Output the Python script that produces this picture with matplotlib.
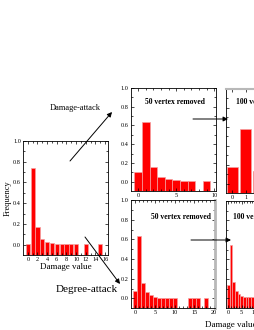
import numpy as np
import matplotlib
matplotlib.use('Agg')
import matplotlib.pyplot as plt
from matplotlib.patches import FancyArrowPatch

plt.rcParams['font.family'] = ['Liberation Serif', 'DejaVu Serif']

W, H = 255, 330

# initial network
left_x = [0, 1, 2, 3, 4, 5, 6, 7, 8, 9, 10, 12, 15]
left_f = [0.002, 0.74, 0.166, 0.057, 0.028, 0.013, 0.008, 0.008, 0.008, 0.003, 0.003, 0.003, 0.003]

# damage-attack, 50 vertex removed
dmg50_x = [0, 1, 2, 3, 4, 5, 6, 7, 9]
dmg50_f = [0.103, 0.638, 0.156, 0.053, 0.025, 0.014, 0.004, 0.004, 0.003]

# degree-attack, 50 vertex removed
deg50_x = [0, 1, 2, 3, 4, 5, 6, 7, 8, 9, 10, 14, 15, 16, 18]
deg50_f = [0.08, 0.63, 0.16, 0.061, 0.034, 0.017, 0.007, 0.007, 0.003, 0.003, 0.003,
           0.003, 0.003, 0.003, 0.003]

# damage-attack, 100 vertex removed
dmg100_x = [0, 1, 2]
dmg100_f = [0.17, 0.575, 0.13]

# degree-attack, 100 vertex removed
deg100_x = [0, 1, 2, 3, 4, 5, 6, 7, 8, 9, 10]
deg100_f = [0.135, 0.55, 0.17, 0.07, 0.04, 0.025, 0.015, 0.01, 0.01, 0.01, 0.01]

fig = plt.figure(figsize=(W / 100, H / 100), dpi=100)


def px_axes(x0, y0, x1, y1):
    # pixel box (top-left origin) -> figure axes
    return fig.add_axes([x0 / W, 1 - y1 / H, (x1 - x0) / W, (y1 - y0) / H])


def style(ax, xlim, xmajor, xminor, ylabels=True):
    ax.set_xlim(*xlim)
    ax.set_ylim(-0.1, 1.0)
    ax.set_xticks(xmajor)
    ax.set_xticks(xminor, minor=True)
    ax.set_yticks(np.arange(0, 1.01, 0.2))
    ax.set_yticks(np.arange(0.1, 1.0, 0.2), minor=True)
    ax.yaxis.set_major_formatter(plt.FormatStrFormatter('%.1f'))
    ax.tick_params(which='both', direction='in', top=True, right=True,
                   width=0.5, labelsize=4.5, pad=1.5)
    ax.tick_params(which='major', length=2.2)
    ax.tick_params(which='minor', length=1.2)
    if not ylabels:
        ax.tick_params(labelleft=False)
    for s in ax.spines.values():
        s.set_linewidth(0.6)


def bars(ax, x, f, w):
    ax.bar(x, np.array(f) + 0.1, bottom=-0.1, width=w, color='#ff0000',
           edgecolor='#f4a0a0', linewidth=0.5)


ax0 = px_axes(23, 141, 108, 255)
bars(ax0, left_x, left_f, 0.85)
style(ax0, (-1, 16.6), range(0, 17, 2), range(1, 17, 2))
ax0.set_ylabel('Frequency', fontsize=6, labelpad=1)
ax0.set_xlabel('Damage value', fontsize=6.5, labelpad=0.5)

ax1 = px_axes(130.7, 88, 216, 191)
bars(ax1, dmg50_x, dmg50_f, 1.0)
style(ax1, (-1, 10.25), [0, 5, 10], range(0, 11))
ax1.text(0.52, 0.867, '50 vertex removed', transform=ax1.transAxes,
         ha='center', va='center', fontsize=5.5, fontweight='bold')

ax2 = px_axes(130.7, 200, 215, 308.3)
bars(ax2, deg50_x, deg50_f, 1.0)
style(ax2, (-1.1, 20.2), [0, 5, 10, 15, 20], range(0, 21))
ax2.spines['right'].set_color('#b8b8b8')
ax2.spines['right'].set_linewidth(2)
ax2.text(0.6, 0.846, '50 vertex removed', transform=ax2.transAxes,
         ha='center', va='center', fontsize=5.5, fontweight='bold')

ax3 = px_axes(226, 89, 311, 193)
bars(ax3, dmg100_x, dmg100_f, 0.85)
style(ax3, (-0.47, 5.87), range(0, 6), [], ylabels=False)
ax3.spines['top'].set_color('#b8b8b8')
ax3.spines['top'].set_linewidth(1.5)
ax3.text(0.114, 0.878, '100 vertex removed', transform=ax3.transAxes,
         ha='left', va='center', fontsize=5.5, fontweight='bold')

ax4 = px_axes(226, 201, 311, 308)
bars(ax4, deg100_x, deg100_f, 1.0)
style(ax4, (-0.86, 31), range(0, 31, 5), range(0, 31), ylabels=False)
ax4.text(0.086, 0.853, '100 vertex removed', transform=ax4.transAxes,
         ha='left', va='center', fontsize=5.5, fontweight='bold')

fig.text(231 / W, 1 - 325 / H, 'Damage value', ha='center', va='center', fontsize=6.5)
fig.text(75 / W, 1 - 108 / H, 'Damage-attack', ha='center', va='center', fontsize=6)
fig.text(87 / W, 1 - 289 / H, 'Degree-attack', ha='center', va='center', fontsize=8)


def arrow(p0, p1):
    a = FancyArrowPatch((p0[0] / W, 1 - p0[1] / H), (p1[0] / W, 1 - p1[1] / H),
                        transform=fig.transFigure, arrowstyle='-|>',
                        mutation_scale=7, lw=0.7, color='k', shrinkA=0, shrinkB=0)
    fig.add_artist(a)


arrow((70, 161), (112, 112))
arrow((85, 237), (120, 284))
arrow((193, 119), (228, 119))
arrow((191, 240), (231, 240))

fig.savefig('out.png', dpi=100)
